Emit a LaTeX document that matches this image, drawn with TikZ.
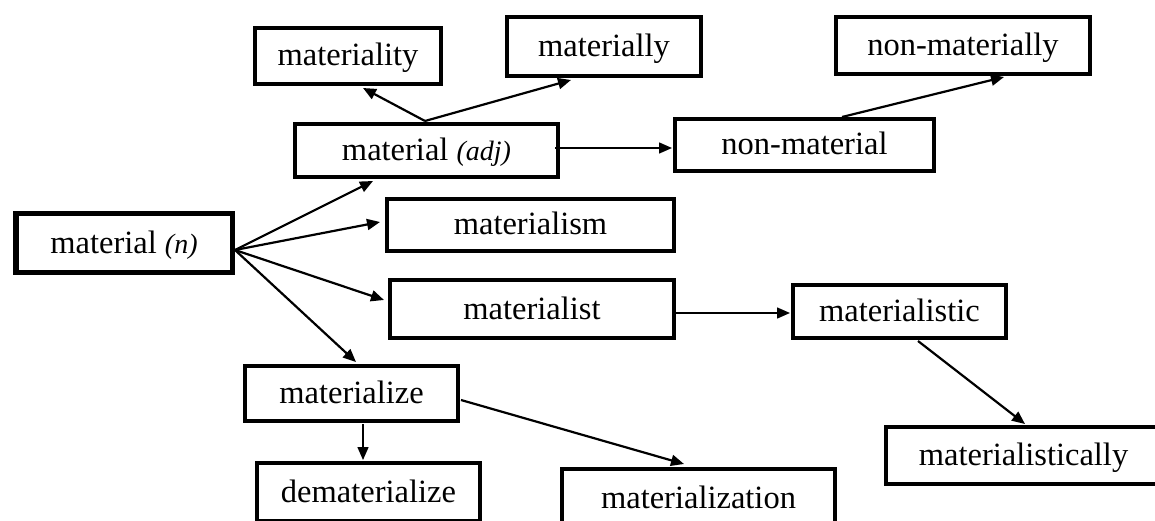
\documentclass[tikz,border=0pt]{standalone}
\usepackage{fontspec}
\setmainfont{Liberation Serif}
\usetikzlibrary{arrows.meta,calc}

\tikzset{
  wordbox/.style={draw=black, line width=4pt, rectangle, inner sep=0pt,
    font=\fontsize{32.5}{39}\selectfont, text height=26pt, text depth=6pt},
  rootbox/.style={wordbox, line width=5.5pt},
  arr/.style={line width=2.2pt, -{Triangle[length=13pt,width=11pt]}},
  thinarr/.style={line width=1.5pt, -{Triangle[length=13pt,width=11pt]}},
}
\newcommand{\pos}[1]{{\fontsize{28}{30}\selectfont\itshape #1}}

\begin{document}
\begin{tikzpicture}[x=1pt,y=-1pt]
\useasboundingbox (0,0) rectangle (1155,521);
\clip (0,0) rectangle (1155,521);

% word boxes
\node[rootbox, minimum width=216.5pt, minimum height=58.5pt] (n) at (124,243) {material \pos{(n)}};
\node[wordbox, minimum width=263pt, minimum height=53pt] (adj) at (426.5,150.5) {material \pos{(adj)}};
\node[wordbox, minimum width=186pt, minimum height=56pt] (matity) at (348,56) {materiality};
\node[wordbox, minimum width=194pt, minimum height=59pt] (mately) at (604,46.5) {materially};
\node[wordbox, minimum width=259pt, minimum height=52pt] (nonmat) at (804.5,145) {non-material};
\node[wordbox, minimum width=254pt, minimum height=57pt] (nonmately) at (963,45.5) {non-materially};
\node[wordbox, minimum width=287pt, minimum height=52pt] (ism) at (530.5,225) {materialism};
\node[wordbox, minimum width=284pt, minimum height=58pt] (ist) at (532,309) {materialist};
\node[wordbox, minimum width=213pt, minimum height=53pt] (istic) at (899.5,311.5) {materialistic};
\node[wordbox, minimum width=275pt, minimum height=57pt] (istically) at (1023.5,455.5) {materialistically};
\node[wordbox, minimum width=213pt, minimum height=55pt] (ize) at (351.5,393.5) {materialize};
\node[wordbox, minimum width=223pt, minimum height=58pt] (demat) at (368.5,492) {dematerialize};
\node[wordbox, minimum width=273pt, minimum height=58pt] (matz) at (698.5,498) {materialization};

% derivation arrows
\draw[arr] ($(n.east)+(0,7)$) -- ($(adj.south west)+(80,2)$);
\draw[arr] ($(n.east)+(0,7)$) -- ($(ism.west)+(-5,-3)$);
\draw[arr] ($(n.east)+(0,7)$) -- ($(ist.west)+(-4,-9)$);
\draw[arr] ($(n.east)+(0,7)$) -- ($(ize.north west)+(113,-2)$);
\draw[arr] ($(adj.north west)+(132,-1)$) -- ($(matity.south west)+(110,2)$);
\draw[arr] ($(adj.north west)+(132,-1)$) -- ($(mately.south west)+(66,2)$);
\draw[thinarr] ($(adj.east)+(-5,-2.5)$) -- ($(nonmat.west)+(-1,3)$);
\draw[arr] ($(nonmat.north west)+(169,0)$) -- ($(nonmately.south west)+(170,1)$);
\draw[thinarr] ($(ist.east)+(-4,4)$) -- ($(istic.west)+(-1,1.5)$);
\draw[arr] ($(istic.south west)+(127,1)$) -- ($(istically.north west)+(141,-1)$);
\draw[thinarr] ($(ize.south west)+(120,1)$) -- ($(demat.north west)+(108,-1)$);
\draw[arr] ($(ize.east)+(1,6.5)$) -- ($(matz.north west)+(124,-3)$);
\end{tikzpicture}
\end{document}
